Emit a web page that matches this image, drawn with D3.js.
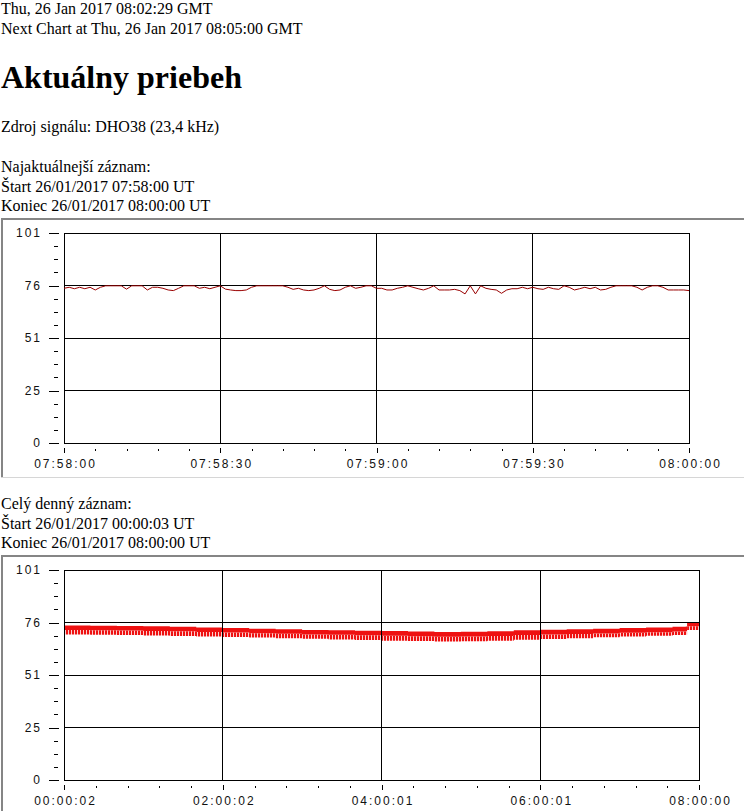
<!DOCTYPE html>
<html>
<head>
<meta charset="utf-8">
<script src="https://cdn.jsdelivr.net/npm/d3@7"></script>
<style>
body { margin:0; background:#fff; width:744px; height:811px; overflow:hidden; position:relative;
       font-family:"Liberation Serif","Times New Roman",serif; font-size:16px; color:#000; }
.blk { position:absolute; left:1px; line-height:19.5px; white-space:nowrap; }
h1 { position:absolute; left:1px; margin:0; font-size:32px; line-height:37px; font-weight:bold; white-space:nowrap; }
svg { position:absolute; left:0; top:0; }
.axis text { font-family:"Liberation Sans",Arial,sans-serif; font-size:12px; letter-spacing:2px; fill:#111; }
.axis line { stroke:#000; }
</style>
</head>
<body>
<div class="blk" style="top:-1px">Thu, 26 Jan 2017 08:02:29 GMT<br>Next Chart at Thu, 26 Jan 2017 08:05:00 GMT</div>
<h1 style="top:59px">Aktuálny priebeh</h1>
<div class="blk" style="top:117px">Zdroj signálu: DHO38 (23,4 kHz)</div>
<div class="blk" style="top:157px">Najaktuálnejší záznam:<br>Štart 26/01/2017 07:58:00 UT<br>Koniec 26/01/2017 08:00:00 UT</div>
<div class="blk" style="top:494px">Celý denný záznam:<br>Štart 26/01/2017 00:00:03 UT<br>Koniec 26/01/2017 08:00:00 UT</div>
<svg id="page" width="744" height="811"></svg>
<script>
// y axis, same for both charts
let yMax = 101;
let yTickLabels = ["0", "25", "51", "76", "101"];

// last two minutes, one reading per second from 07:58:00
let recentStart = "07:58:00";
let recentTickLabels = ["07:58:00", "07:58:30", "07:59:00", "07:59:30", "08:00:00"];
let recentValues = [
    74.4, 74.9, 74.2, 74.9, 74.2, 74.9, 73.6, 74.9, 75.6, 75.6,
    75.6, 75.6, 74.0, 75.6, 75.6, 75.6, 73.6, 74.9, 74.9, 74.4,
    73.6, 73.3, 74.4, 75.6, 75.6, 75.6, 74.4, 74.9, 74.2, 74.9,
    75.6, 74.0, 73.6, 73.3, 73.3, 73.6, 74.9, 75.6, 75.6, 75.6,
    75.6, 75.6, 75.6, 74.9, 73.9, 74.4, 73.6, 73.3, 73.6, 74.4,
    75.6, 73.9, 73.3, 73.6, 74.9, 75.6, 74.4, 74.9, 75.6, 75.6,
    74.4, 74.4, 73.6, 73.6, 74.4, 74.9, 75.6, 74.9, 74.2, 73.6,
    74.4, 75.6, 73.6, 73.6, 73.6, 73.9, 73.3, 71.7, 75.6, 71.7,
    75.6, 74.4, 73.9, 73.6, 72.0, 73.6, 74.2, 74.2, 74.9, 74.2,
    74.9, 74.2, 73.9, 74.9, 74.2, 73.9, 75.6, 74.9, 73.6, 74.2,
    74.9, 74.2, 74.9, 73.6, 73.9, 74.9, 75.6, 75.6, 75.6, 75.6,
    74.9, 73.6, 74.9, 75.6, 75.6, 74.9, 73.6, 73.6, 73.6, 73.6,
    73.3
];

// whole day so far: signal band
// high = top of band, core = bottom of the dense part, low = tips of the spikes
let dayTickLabels = ["00:00:02", "02:00:02", "04:00:01", "06:00:01", "08:00:00"];
let dayTimes = ["00:00:03", "00:20:00", "00:40:00", "01:00:00", "01:20:00", "01:40:00", "02:00:00",
    "02:20:00", "02:40:00", "03:00:00", "03:20:00", "03:40:00", "04:00:00", "04:20:00", "04:40:00",
    "05:00:00", "05:20:00", "05:40:00", "06:00:00", "06:20:00", "06:40:00", "07:00:00", "07:20:00",
    "07:40:00", "07:50:00", "07:51:00", "08:00:00"];
let dayHigh = [74.3, 74.2, 74.1, 73.9, 73.7, 73.4, 73.1, 72.8, 72.5, 72.2, 72.0, 71.8, 71.7, 71.4,
    71.2, 71.3, 71.6, 72.0, 72.3, 72.5, 72.8, 73.1, 73.4, 73.7, 73.8, 76.0, 76.3];
let dayCore = [72.1, 72.0, 71.9, 71.7, 71.5, 71.2, 70.9, 70.6, 70.3, 70.0, 69.8, 69.6, 69.4, 69.1,
    68.9, 69.0, 69.3, 69.7, 70.0, 70.2, 70.5, 70.8, 71.1, 71.4, 71.5, 74.0, 74.3];
let dayLow = [70.0, 69.9, 69.7, 69.5, 69.3, 69.0, 68.8, 68.5, 68.2, 67.9, 67.6, 67.3, 67.0, 66.8,
    66.6, 66.7, 67.0, 67.5, 67.8, 68.2, 68.6, 69.0, 69.4, 69.7, 69.9, 72.2, 72.4];

let parseTime = d3.timeParse("%H:%M:%S");
let fmtTime = d3.timeFormat("%H:%M:%S");
let svg = d3.select("#page");

// vertical hatch for the spiky lower part of the day band
let pat = svg.append("defs").append("pattern")
    .attr("id", "spikes").attr("patternUnits", "userSpaceOnUse")
    .attr("width", 3).attr("height", 4);
pat.append("rect").attr("width", 3).attr("height", 4).attr("fill", "#fbd0d0");
pat.append("rect").attr("width", 2).attr("height", 4).attr("fill", "#ee1111");

function drawFrame(top, bottom) {
    let g = svg.append("g").attr("shape-rendering", "crispEdges");
    g.append("rect").attr("x", 1).attr("y", top).attr("width", 744).attr("height", bottom - top).attr("fill", "#fff");
    g.append("line").attr("x1", 1).attr("x2", 744).attr("y1", top + 1).attr("y2", top + 1)
        .attr("stroke", "#858585").attr("stroke-width", 2);
    g.append("line").attr("x1", 2).attr("x2", 2).attr("y1", top).attr("y2", bottom)
        .attr("stroke", "#858585").attr("stroke-width", 2);
    g.append("line").attr("x1", 1).attr("x2", 744).attr("y1", bottom - 0.5).attr("y2", bottom - 0.5)
        .attr("stroke", "#d6d6d6");
}

function minorBetween(majors, n) {
    let out = [];
    for (let i = 0; i < majors.length - 1; i++) {
        let a = +majors[i], b = +majors[i + 1];
        for (let k = 1; k < n; k++) out.push(new Date(a + (b - a) * k / n));
    }
    return out;
}

function drawAxes(plot, x, y, xMajors) {
    let yMajors = d3.range(5).map(i => i * yMax / 4);
    let yMinors = d3.range(17).map(i => i * yMax / 16).filter((d, i) => i % 4 != 0);

    // grid
    let grid = svg.append("g").attr("shape-rendering", "crispEdges").attr("stroke", "#000");
    grid.selectAll(".hg").data(yMajors.slice(1, 4)).enter().append("line")
        .attr("x1", plot.left).attr("x2", plot.right)
        .attr("y1", d => y(d)).attr("y2", d => y(d));
    grid.selectAll(".vg").data(xMajors.slice(1, 4)).enter().append("line")
        .attr("y1", plot.top).attr("y2", plot.bottom)
        .attr("x1", d => x(d)).attr("x2", d => x(d));
    grid.append("rect").attr("x", plot.left).attr("y", plot.top)
        .attr("width", plot.right - plot.left).attr("height", plot.bottom - plot.top)
        .attr("fill", "none");

    // left axis, ticks a little away from the frame
    let la = svg.append("g").attr("class", "axis").attr("shape-rendering", "crispEdges")
        .attr("transform", `translate(${plot.left - 5},0)`)
        .call(d3.axisLeft(y).tickValues(yMajors).tickSize(10).tickPadding(7)
            .tickFormat((d, i) => yTickLabels[i]));
    la.select(".domain").remove();
    let lm = svg.append("g").attr("class", "axis").attr("shape-rendering", "crispEdges")
        .attr("transform", `translate(${plot.left - 6},0)`)
        .call(d3.axisLeft(y).tickValues(yMinors).tickSize(4).tickFormat(""));
    lm.select(".domain").remove();

    // bottom axis
    let ba = svg.append("g").attr("class", "axis").attr("shape-rendering", "crispEdges")
        .attr("transform", `translate(0,${plot.bottom + 5})`)
        .call(d3.axisBottom(x).tickValues(xMajors).tickSize(5).tickPadding(6).tickFormat(fmtTime));
    ba.select(".domain").remove();
    ba.selectAll("text").attr("dx", "1px");
    let bm = svg.append("g").attr("class", "axis").attr("shape-rendering", "crispEdges")
        .attr("transform", `translate(0,${plot.bottom + 6})`)
        .call(d3.axisBottom(x).tickValues(minorBetween(xMajors, 5)).tickSize(2).tickFormat(""));
    bm.select(".domain").remove();
}

// ---- chart 1: last two minutes
drawFrame(218, 478);
let plot1 = {left: 64, right: 689, top: 233, bottom: 443};
let x1Majors = recentTickLabels.map(parseTime);
let x1 = d3.scaleTime().domain(d3.extent(x1Majors)).range([plot1.left, plot1.right]);
let y1 = d3.scaleLinear().domain([0, yMax]).range([plot1.bottom, plot1.top]);
drawAxes(plot1, x1, y1, x1Majors);

let t1 = parseTime(recentStart);
svg.append("path")
    .datum(recentValues)
    .attr("fill", "none")
    .attr("stroke", "#990000")
    .attr("stroke-width", 1)
    .attr("d", d3.line()
        .x((d, i) => x1(new Date(+t1 + i * 1000)))
        .y(d => y1(d)));

// ---- chart 2: whole day
drawFrame(555, 830);
let plot2 = {left: 64, right: 699, top: 570, bottom: 780};
let x2Majors = dayTickLabels.map(parseTime);
let x2 = d3.scaleTime().domain(d3.extent(x2Majors)).range([plot2.left, plot2.right]);
let y2 = d3.scaleLinear().domain([0, yMax]).range([plot2.bottom, plot2.top]);

let dayData = dayTimes.map((t, i) => ({t: parseTime(t), lo: dayLow[i], core: dayCore[i], hi: dayHigh[i]}));
svg.append("path")
    .datum(dayData)
    .attr("fill", "url(#spikes)")
    .attr("d", d3.area().curve(d3.curveStepAfter)
        .x(d => x2(d.t))
        .y0(d => y2(d.lo))
        .y1(d => y2(d.core)));
svg.append("path")
    .datum(dayData)
    .attr("fill", "#ee1111")
    .attr("d", d3.area().curve(d3.curveStepAfter)
        .x(d => x2(d.t))
        .y0(d => y2(d.core))
        .y1(d => y2(d.hi)));

drawAxes(plot2, x2, y2, x2Majors);
</script>
</body>
</html>
